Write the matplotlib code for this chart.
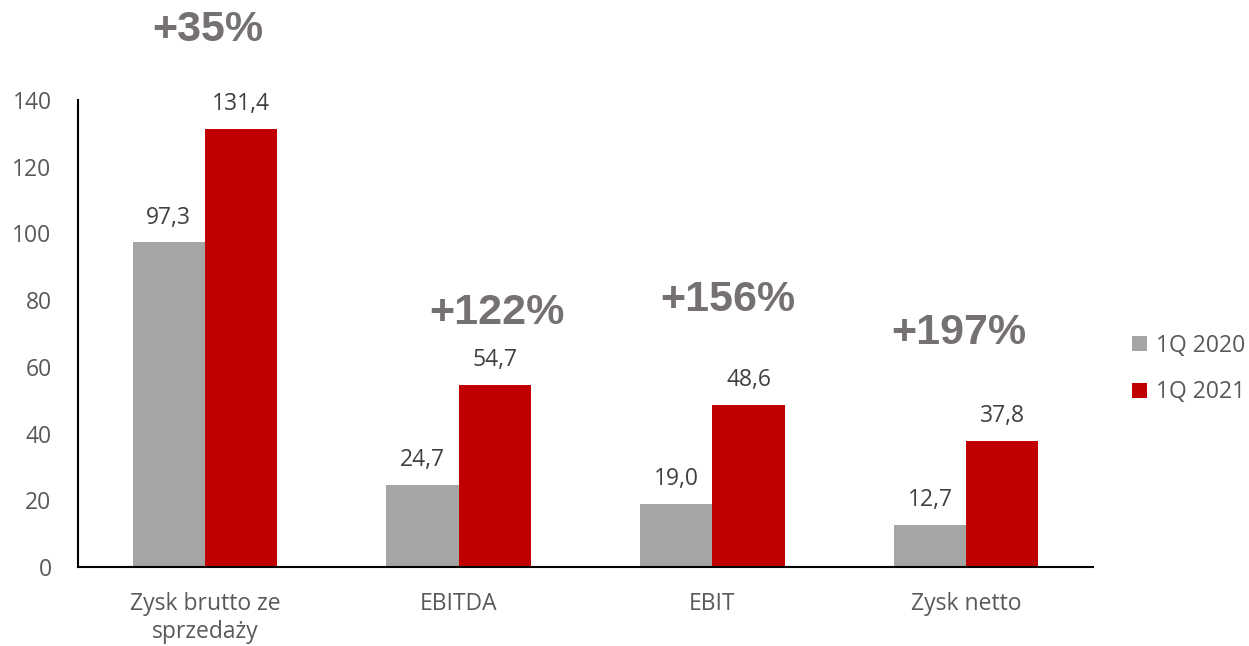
import numpy as np
import matplotlib.pyplot as plt

categories = ['Zysk brutto ze\nsprzedaży', 'EBITDA', 'EBIT', 'Zysk netto']
values_2020 = [97.3, 24.7, 19.0, 12.7]
values_2021 = [131.4, 54.7, 48.6, 37.8]
series_names = ['1Q 2020', '1Q 2021']
growth_labels = ['+35%', '+122%', '+156%', '+197%']
growth_x = [0.01, 1.15, 2.06, 2.97]
growth_y = [161, 76, 80, 70]

FONT = 'Open Sans'
TXT = '#595959'
FS = 16.5


def fmt(v):
    return f'{v:.1f}'.replace('.', ',')


def main():
    plt.rcParams['font.family'] = [FONT, 'DejaVu Sans']
    fig = plt.figure(figsize=(12.49, 6.46), dpi=100)
    ax = fig.add_axes([78 / 1249, 79 / 646, (1093 - 78) / 1249, (567 - 100) / 646])

    x = np.arange(len(categories))
    w = 0.285
    b1 = ax.bar(x - w / 2, values_2020, w, color='#a5a5a5', label=series_names[0])
    b2 = ax.bar(x + w / 2, values_2021, w, color='#c00000', label=series_names[1])

    # etykiety wartości nad słupkami
    for bars, vals in ((b1, values_2020), (b2, values_2021)):
        for r, v in zip(bars, vals):
            ax.annotate(fmt(v), (r.get_x() + r.get_width() / 2, v),
                        xytext=(0, 9), textcoords='offset points',
                        ha='center', va='bottom', fontsize=FS, color='#404040')

    # procentowe zmiany
    for lbl, gx, gy in zip(growth_labels, growth_x, growth_y):
        ax.text(gx, gy, lbl, ha='center', va='center', fontsize=31,
                fontweight='bold', color='#767171', family='Liberation Sans',
                clip_on=False)

    ax.set_xlim(-0.5, 3.5)
    ax.set_ylim(0, 140)
    ax.set_yticks(range(0, 141, 20))
    ax.set_xticks(x)
    ax.set_xticklabels(categories, linespacing=1.25)
    ax.tick_params(axis='both', length=0, labelsize=FS, colors=TXT)
    ax.tick_params(axis='y', pad=19)
    ax.tick_params(axis='x', pad=18)
    for s in ('top', 'right'):
        ax.spines[s].set_visible(False)
    for s in ('left', 'bottom'):
        ax.spines[s].set_linewidth(1.5)
        ax.spines[s].set_color('black')

    leg = fig.legend(loc='center left', bbox_to_anchor=(1132 / 1249, 1 - 369 / 646),
                     frameon=False, fontsize=FS, handlelength=0.65, handleheight=0.65,
                     handletextpad=0.4, labelspacing=1.0, borderpad=0, borderaxespad=0)
    for t in leg.get_texts():
        t.set_color(TXT)

    fig.savefig('out.png', dpi=100)


if __name__ == '__main__':
    main()
